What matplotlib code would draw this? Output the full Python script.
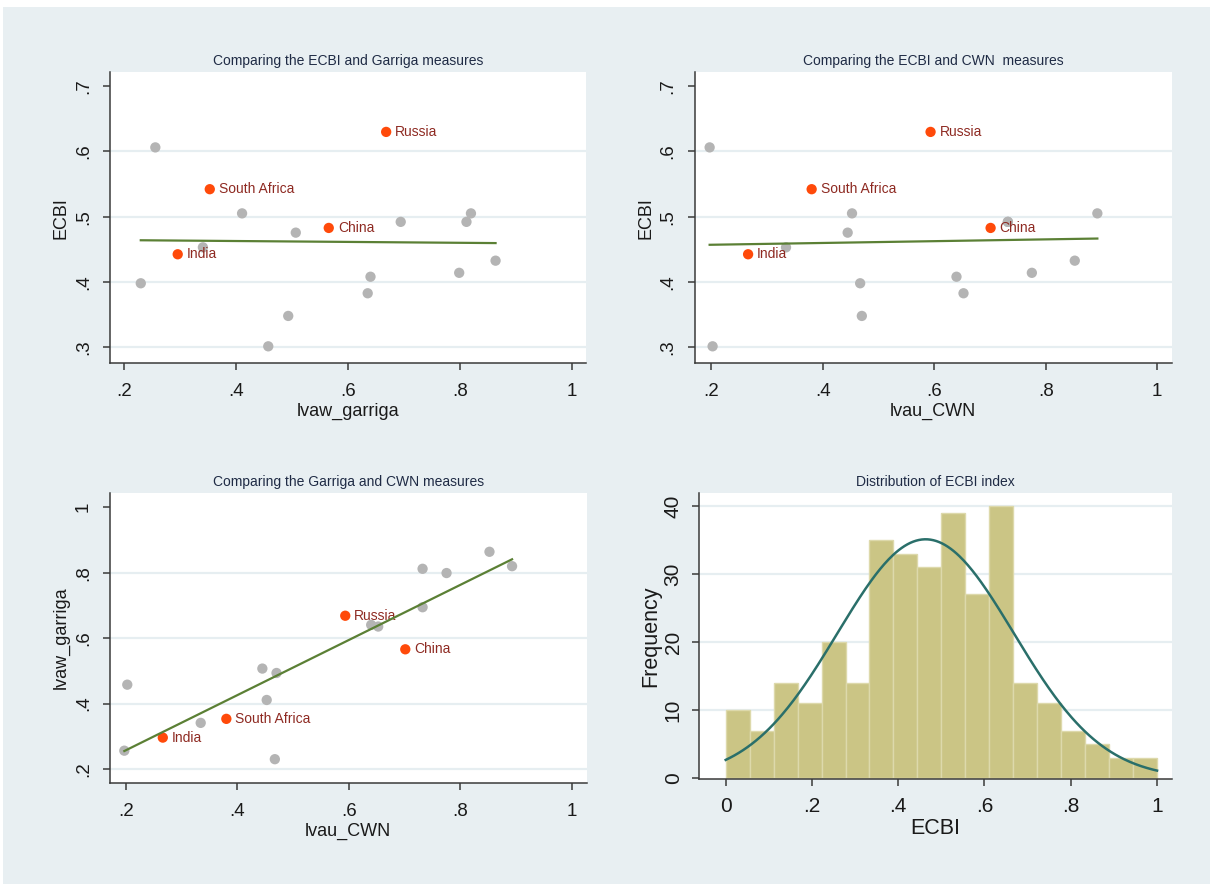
import numpy as np
import matplotlib
matplotlib.use("Agg")
import matplotlib.pyplot as plt
from matplotlib.patches import Rectangle
from matplotlib.ticker import FuncFormatter

plt.rcParams['font.family'] = ['Liberation Sans', 'DejaVu Sans']

# ---- data -------------------------------------------------------------
# countries without a label
other_garriga = [0.256, 0.411, 0.507, 0.341, 0.230, 0.6945, 0.820,
                 0.812, 0.864, 0.799, 0.6405, 0.6355, 0.4935, 0.4578]
other_cwn = [0.197, 0.4524, 0.4446, 0.334, 0.467, 0.732, 0.8925,
             0.732, 0.852, 0.775, 0.6398, 0.6524, 0.470, 0.2023]
other_ecbi = [0.606, 0.505, 0.4755, 0.453, 0.398, 0.492, 0.505,
              0.492, 0.4326, 0.414, 0.408, 0.3827, 0.348, 0.3015]

# highlighted countries
named = ["Russia", "South Africa", "China", "India"]
named_garriga = [0.6685, 0.3533, 0.5659, 0.296]
named_cwn = [0.5933, 0.380, 0.701, 0.266]
named_ecbi = [0.6297, 0.542, 0.4827, 0.4424]

# ECBI histogram (18 bins on [0, 1])
hist_counts = [10, 7, 14, 11, 20, 14, 35, 33, 31, 39, 27, 40, 14, 11, 7, 5, 3, 3]
hist_start = 0.0
hist_end = 1.0
ecbi_mean = 0.4635
ecbi_sd = 0.2046

scatter_xticks = [0.2, 0.4, 0.6, 0.8, 1.0]
ecbi_yticks = [0.3, 0.4, 0.5, 0.6, 0.7]
garriga_yticks = [0.2, 0.4, 0.6, 0.8, 1.0]
hist_xticks = [0, 0.2, 0.4, 0.6, 0.8, 1.0]
hist_yticks = [0, 10, 20, 30, 40]

# ---- style ------------------------------------------------------------
W, H = 1210, 884
BG = "#e8eff2"
GRID = "#e6eef1"
AXC = "#3a3a3a"
GRAY = "#b4b4b4"
RED = "#ff4a0a"
LABC = "#8e2a22"
FITC = "#5b8035"
BARC = "#cbc585"
BAREDGE = "#ddd9ab"
CURVEC = "#2a6f6a"
TITLEC = "#1f2b45"
TXTC = "#1a1a1a"


def stata_fmt(v, pos=None):
    if abs(v) < 1e-12:
        return "0"
    s = f"{v:g}"
    if s.startswith("0."):
        s = s[1:]
    return s


fig = plt.figure(figsize=(W / 100, H / 100), dpi=100, facecolor="white")
fig.patches.append(Rectangle((3 / W, 0 / H), 1, 1 - 7 / H - 0 / H,
                             transform=fig.transFigure, facecolor=BG,
                             edgecolor="none", zorder=-10))


def make_axes(left, top, right, bottom):
    ax = fig.add_axes([left / W, 1 - bottom / H, (right - left) / W,
                       (bottom - top) / H])
    ax.set_facecolor("white")
    for s in ("top", "right"):
        ax.spines[s].set_visible(False)
    for s in ("left", "bottom"):
        ax.spines[s].set_color(AXC)
        ax.spines[s].set_linewidth(1.1)
    ax.tick_params(direction="out", length=5, width=1.1, color=AXC,
                   labelcolor=TXTC)
    ax.xaxis.set_major_formatter(FuncFormatter(stata_fmt))
    ax.yaxis.set_major_formatter(FuncFormatter(stata_fmt))
    return ax


def finish_scatter(ax, xticks, yticks, xlim, ylim, xlabel, ylabel, title):
    ax.set_xticks(xticks)
    ax.set_yticks(yticks)
    ax.set_xlim(*xlim)
    ax.set_ylim(*ylim)
    ax.tick_params(axis="x", labelsize=13.5, pad=9)
    ax.tick_params(axis="y", labelsize=13.5, pad=8, labelrotation=90)
    for lab in ax.get_yticklabels():
        lab.set_va("center")
    ax.yaxis.grid(True, color=GRID, lw=1.6, zorder=0)
    ax.set_axisbelow(True)
    ax.get_ygridlines()[-1].set_visible(False)
    ax.set_xlabel(xlabel, fontsize=13, color=TXTC, labelpad=2)
    ax.set_ylabel(ylabel, fontsize=13, color=TXTC, labelpad=4)
    ax.set_title(title, fontsize=10, color=TITLEC, pad=5)


def scatter_panel(ax, ox, oy, nx, ny):
    ax.scatter(ox, oy, s=55, color=GRAY, edgecolors="none", zorder=3)
    ax.scatter(nx, ny, s=55, color=RED, edgecolors="none", zorder=4)
    for name, x, y in zip(named, nx, ny):
        ax.annotate(name, (x, y), xytext=(6.5, 0), textcoords="offset points",
                    va="center", ha="left", fontsize=10, color=LABC,
                    zorder=5)
    allx = np.r_[ox, nx]
    ally = np.r_[oy, ny]
    b, a = np.polyfit(allx, ally, 1)
    xs = np.array([allx.min(), allx.max()])
    ax.plot(xs, a + b * xs, color=FITC, lw=1.6, zorder=6)


# Panel 1: ECBI vs Garriga
ax1 = make_axes(110, 72, 586, 363.3)
scatter_panel(ax1, other_garriga, other_ecbi, named_garriga, named_ecbi)
finish_scatter(ax1, scatter_xticks, ecbi_yticks, (0.175, 1.0256),
               (0.2755, 0.7214), "lvaw_garriga", "ECBI",
               "Comparing the ECBI and Garriga measures")

# Panel 2: ECBI vs CWN
ax2 = make_axes(694.7, 72, 1172, 363.3)
scatter_panel(ax2, other_cwn, other_ecbi, named_cwn, named_ecbi)
finish_scatter(ax2, scatter_xticks, ecbi_yticks, (0.1702, 1.0264),
               (0.2755, 0.7214), "lvau_CWN", "ECBI",
               "Comparing the ECBI and CWN  measures")

# Panel 3: Garriga vs CWN
ax3 = make_axes(110, 492.7, 586.7, 783.3)
scatter_panel(ax3, other_cwn, other_garriga, named_cwn, named_garriga)
finish_scatter(ax3, scatter_xticks, garriga_yticks, (0.1713, 1.0264),
               (0.1563, 1.0446), "lvau_CWN", "lvaw_garriga",
               "Comparing the Garriga and CWN measures")

# Panel 4: histogram of ECBI with normal density
ax4 = make_axes(699.3, 492.7, 1171.7, 779.3)
nb = len(hist_counts)
edges = np.linspace(hist_start, hist_end, nb + 1)
width = edges[1] - edges[0]
ax4.bar(edges[:-1], hist_counts, width=width, align="edge", color=BARC,
        edgecolor=BAREDGE, linewidth=1.0, zorder=2)
n_obs = sum(hist_counts)
xs = np.linspace(hist_start, hist_end, 300)
dens = n_obs * width / (ecbi_sd * np.sqrt(2 * np.pi)) * \
    np.exp(-0.5 * ((xs - ecbi_mean) / ecbi_sd) ** 2)
ax4.plot(xs, dens, color=CURVEC, lw=1.8, zorder=3)
ax4.set_xticks(hist_xticks)
ax4.set_yticks(hist_yticks)
ax4.set_xlim(-0.0612, 1.034)
ax4.set_ylim(-0.15, 41.94)
ax4.tick_params(axis="x", labelsize=15, pad=8)
ax4.tick_params(axis="y", labelsize=15, pad=7, labelrotation=90)
for lab in ax4.get_yticklabels():
    lab.set_va("center")
ax4.yaxis.grid(True, color=GRID, lw=1.6, zorder=0)
ax4.set_axisbelow(True)
ax4.get_ygridlines()[0].set_visible(False)
ax4.set_xlabel("ECBI", fontsize=15.5, color=TXTC, labelpad=1)
ax4.set_ylabel("Frequency", fontsize=15.5, color=TXTC, labelpad=2)
ax4.set_title("Distribution of ECBI index", fontsize=10, color=TITLEC, pad=5)

fig.savefig("out.png", dpi=100, facecolor=fig.get_facecolor())
